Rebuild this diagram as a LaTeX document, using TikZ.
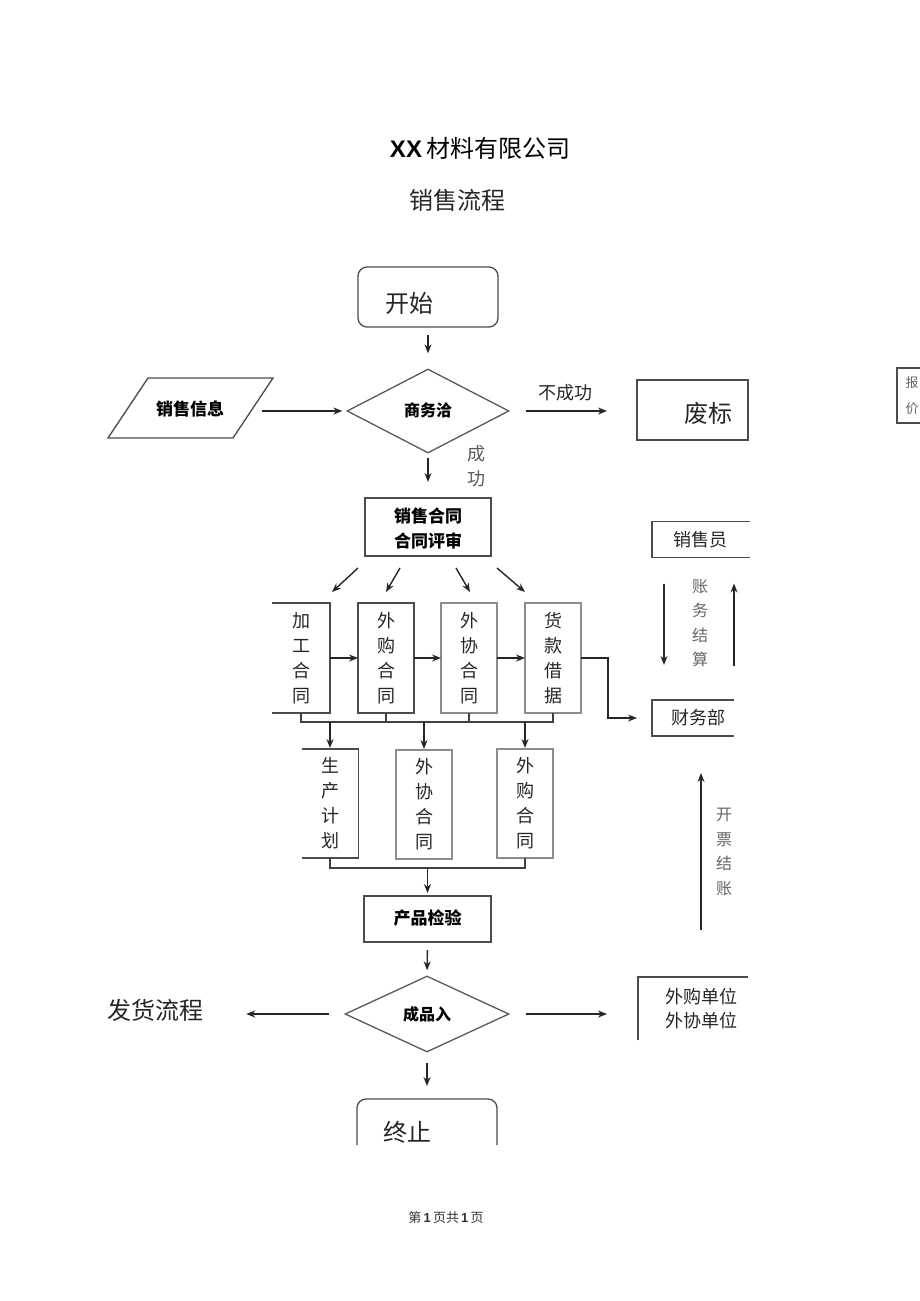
\documentclass[tikz,border=0pt]{standalone}
\usepackage{fontspec}
\setmainfont{Liberation Serif}
\newfontfamily\cjk{Noto Sans CJK SC}
\newfontfamily\lsans{Liberation Sans}
\usetikzlibrary{arrows.meta,shapes.geometric}
\tikzset{
  outline/.style={draw=black!70, line width=1.3pt},
  lightoutline/.style={draw=black!45, line width=1.3pt},
  blank/.style={inner sep=0pt, outer sep=0pt},
  arr/.style={draw=black!85, line width=1.4pt, -{Stealth[length=9pt,width=7pt]}},
  wire/.style={draw=black!75, line width=1.3pt},
  big/.style={font=\cjk\fontsize{24}{26}\selectfont, text=black!85, inner sep=0pt},
  mid/.style={font=\cjk\fontsize{18}{24}\selectfont, text=black!85, inner sep=0pt, align=center},
  vert/.style={font=\cjk\fontsize{18}{25}\selectfont, text=black!85, inner sep=0pt, align=center},
  graytxt/.style={font=\cjk\fontsize{16}{24.5}\selectfont, text=black!60, inner sep=0pt, align=center},
  boldtxt/.style={font=\cjk\bfseries\fontsize{17}{25}\selectfont, text=black, inner sep=0pt, align=center},
  dia/.style={diamond, draw=black!65, line width=1.3pt, inner sep=0pt, aspect=2},
}
\begin{document}
\begin{tikzpicture}[x=1pt,y=-1pt]
\useasboundingbox[fill=white] (0,0) rectangle (920,1301);

% titles
\node[blank, font=\fontsize{24}{28}\selectfont] (title) at (480,148) {{\lsans\bfseries XX}\,{\cjk 材料有限公司}};
\node[big] (subtitle) at (457,200) {销售流程};

% start
\node[blank, outline, rounded corners=9pt, minimum width=140pt, minimum height=60pt] (start) at (428,297) {};
\node[big] (startt) at (409,303) {开始};

% negotiation diamond
\node[dia, minimum width=162pt, minimum height=84pt] (neg) at (428,411) {};
\node[boldtxt, font=\cjk\bfseries\fontsize{16}{20}\selectfont] (negt) at (428,410) {商务洽};

% sales info parallelogram
\draw[outline] (108,438) -- (148,378) -- (273,378) -- (233,438) -- cycle;
\node[boldtxt, minimum width=145pt] (info) at (190,409) {销售信息};

% abandon
\node[blank, outline, minimum width=111pt, minimum height=60pt] (fb) at (692.5,410) {};
\node[big] (fbt) at (708,413) {废标};

% far right partial box
\node[blank, outline, minimum width=56pt, minimum height=55pt] (pr) at (925,395.5) {};
\node[font=\cjk\fontsize{13}{26}\selectfont, text=black!60, inner sep=0pt, align=center] (prt) at (912,396) {报\\价};

% contract
\node[blank, outline, minimum width=126pt, minimum height=58pt] (contract) at (428,527) {};
\node[boldtxt] (contractt) at (428,528) {销售合同\\合同评审};

% arrows start -> neg -> ...
\draw[arr, shorten <=8pt, shorten >=15pt] (start) -- (neg);
\draw[arr, shorten <=-1pt, shorten >=4pt] (info.east |- neg.west) -- (neg.west);
\draw[arr, shorten <=16pt, shorten >=30pt] (neg.east) -- (neg.east -| fb.west);
\node[mid] (nosucc) at (565,393) {不成功};
\draw[arr, shorten <=4pt, shorten >=16pt] (neg.south) -- (contract.north);
\node[vert, text=black!65] (succ) at (476,466) {成\\功};

% row 1 boxes
\node[blank, minimum width=58pt, minimum height=110pt] (b1) at (301,658) {};
\draw[outline] (b1.north west) -- (b1.north east) -- (b1.south east) -- (b1.south west);
\node[vert] (b1t) at (301,658) {加\\工\\合\\同};
\node[blank, outline, minimum width=56pt, minimum height=110pt] (b2) at (386,658) {};
\node[vert] (b2t) at (386,658) {外\\购\\合\\同};
\node[blank, lightoutline, minimum width=56pt, minimum height=110pt] (b3) at (469,658) {};
\node[vert] (b3t) at (469,658) {外\\协\\合\\同};
\node[blank, lightoutline, minimum width=56pt, minimum height=110pt] (b4) at (553,658) {};
\node[vert] (b4t) at (553,658) {货\\款\\借\\据};

% diagonal arrows from contract
\coordinate (d1s) at (358,568); \coordinate (d1e) at (332,592);
\coordinate (d2s) at (400,568); \coordinate (d2e) at (386,592);
\coordinate (d3s) at (456,568); \coordinate (d3e) at (470,592);
\coordinate (d4s) at (497,568); \coordinate (d4e) at (525,592);
\draw[arr] (d1s) -- (d1e);
\draw[arr] (d2s) -- (d2e);
\draw[arr] (d3s) -- (d3e);
\draw[arr] (d4s) -- (d4e);

% horizontal arrows row 1
\draw[arr] (b1) -- (b2);
\draw[arr] (b2) -- (b3);
\draw[arr] (b3) -- (b4);

% sales person and finance
\node[blank, minimum width=98pt, minimum height=36pt] (sp) at (701,539.5) {};
\draw[outline] (sp.north east) -- (sp.north west) -- (sp.south west) -- (sp.south east);
\node[mid] (spt) at (700,540) {销售员};
\node[blank, minimum width=82pt, minimum height=36pt] (fin) at (693,718) {};
\draw[outline] (fin.north east) -- (fin.north west) -- (fin.south west) -- (fin.south east);
\node[mid] (fint) at (698,718) {财务部};

\draw[arr] (b4.east) -- ++(27,0) |- ([xshift=-15pt]fin.west);
\draw[arr] ([shift={(12,26)}]sp.south west) -- ([shift={(12,-35)}]fin.north west);
\draw[arr] ([shift={(82,-34)}]fin.north west) -- ([shift={(82,26)}]sp.south west);
\node[graytxt] (acct) at (700,623) {账\\务\\结\\算};

% bus 1
\coordinate (bus1) at (0,722);
\draw[wire] (b1.south) -- (b1.south |- bus1) -- (b4.south |- bus1) -- (b4.south);
\draw[wire] (b2.south) -- (b2.south |- bus1);
\draw[wire] (b3.south) -- (b3.south |- bus1);

% row 2 boxes
\node[blank, minimum width=57pt, minimum height=109pt] (c1) at (330,803.5) {};
\draw[outline] (c1.north west) -- (c1.north east) -- (c1.south east) -- (c1.south west);
\node[vert] (c1t) at (330,803.5) {生\\产\\计\\划};
\node[blank, lightoutline, minimum width=56pt, minimum height=109pt] (c2) at (424,804.5) {};
\node[vert] (c2t) at (424,804.5) {外\\协\\合\\同};
\node[blank, lightoutline, minimum width=56pt, minimum height=109pt] (c3) at (525,803.5) {};
\node[vert] (c3t) at (525,803.5) {外\\购\\合\\同};

\draw[arr, shorten >=1pt] (c1.north |- bus1) -- (c1.north);
\draw[arr, shorten >=1pt] (c2.north |- bus1) -- (c2.north);
\draw[arr, shorten >=1pt] (c3.north |- bus1) -- (c3.north);

% bus 2
\coordinate (bus2) at (0,868);
\draw[wire] (c1.south) -- (c1.south |- bus2) -- (c3.south |- bus2) -- (c3.south);

% quality check
\node[blank, outline, minimum width=127pt, minimum height=46pt] (qc) at (427.5,919) {};
\node[boldtxt] (qct) at (427.5,918) {产品检验};
\draw[arr, shorten >=3pt] (qc.north |- bus2) -- (qc.north);

% invoice arrow
\draw[arr] ([shift={(8,194)}]fin.south) -- ([shift={(8,37)}]fin.south);
\node[graytxt] (inv) at (724,852) {开\\票\\结\\账};

% product diamond
\node[dia, minimum width=164pt, minimum height=76pt] (prod) at (427,1014) {};
\node[boldtxt, font=\cjk\bfseries\fontsize{16}{20}\selectfont] (prodt) at (427,1014) {成品入};
\draw[arr, shorten <=8pt, shorten >=5pt] (qc.south) -- (prod.north);

\node[big] (ship) at (155,1010) {发货流程};
\draw[arr, shorten <=15pt, shorten >=43pt] (prod.west) -- (prod.west -| ship.east);

\node[blank, minimum width=110pt, minimum height=63pt] (units) at (693,1008.5) {};
\draw[outline] (units.south west) -- (units.north west) -- (units.north east);
\node[mid] (unitst) at (701,1009) {外购单位\\外协单位};
\draw[arr, shorten <=16pt, shorten >=31pt] (prod.east) -- (prod.east -| units.west);

% end
\node[blank, minimum width=140pt, minimum height=60pt] (stop) at (427,1129) {};
\coordinate (cut) at (0,1145);
\draw[outline, rounded corners=9pt] (stop.west |- cut) -- (stop.north west) -- (stop.north east) -- (stop.east |- cut);
\node[big] (stopt) at (407,1132) {终止};
\draw[arr, shorten <=10pt, shorten >=13pt] (prod.south) -- (stop.north);

% footer
\node[blank, font=\fontsize{13}{15}\selectfont, text=black!80] (footer) at (446,1218) {{\cjk 第}\,{\lsans\bfseries 1}\,{\cjk 页共}\,{\lsans\bfseries 1}\,{\cjk 页}};
\end{tikzpicture}
\end{document}
